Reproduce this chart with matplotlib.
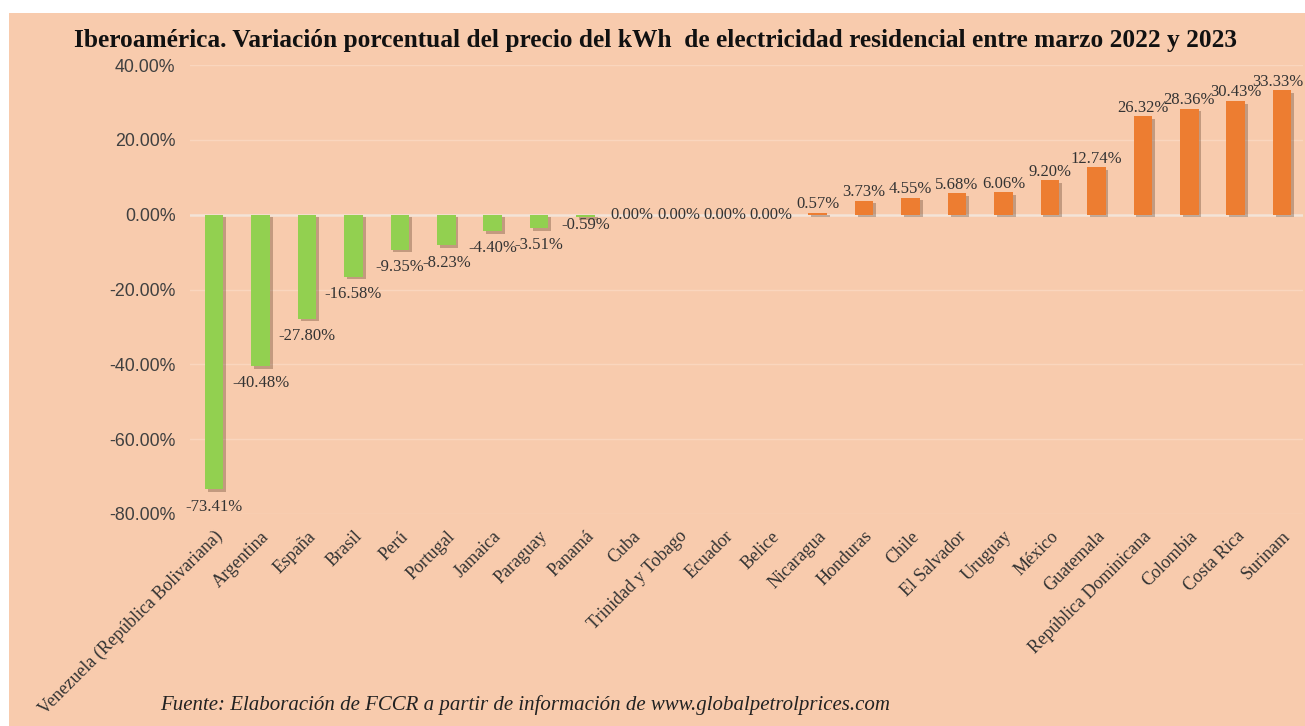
import matplotlib.pyplot as plt
import matplotlib.patheffects as pe
from matplotlib.patches import Rectangle
from matplotlib.ticker import FuncFormatter

paises = ["Venezuela (República Bolivariana)", "Argentina", "España", "Brasil", "Perú",
          "Portugal", "Jamaica", "Paraguay", "Panamá", "Cuba", "Trinidad y Tobago",
          "Ecuador", "Belice", "Nicaragua", "Honduras", "Chile", "El Salvador", "Uruguay",
          "México", "Guatemala", "República Dominicana", "Colombia", "Costa Rica", "Surinam"]
variacion = [-73.41, -40.48, -27.80, -16.58, -9.35, -8.23, -4.40, -3.51, -0.59,
             0.00, 0.00, 0.00, 0.00, 0.57, 3.73, 4.55, 5.68, 6.06, 9.20, 12.74,
             26.32, 28.36, 30.43, 33.33]
y_ticks = [40, 20, 0, -20, -40, -60, -80]

fondo = '#F8CBAD'
verde = '#92D050'
naranja = '#ED7D31'

fig = plt.figure(figsize=(13.05, 7.26), dpi=100)
fig.patch.set_facecolor('white')
fig.patches.append(Rectangle((9 / 1305, 0), 1, 1 - 13 / 726, transform=fig.transFigure,
                             facecolor=fondo, edgecolor='none', zorder=-5))

ax = fig.add_axes([190 / 1305, 212 / 726, 1113 / 1305, 449 / 726])
ax.set_facecolor('none')

x = list(range(len(paises)))
colores = [verde if v < 0 else naranja for v in variacion]
bars = ax.bar(x, variacion, width=0.4, color=colores, zorder=3)
for b in bars:
    b.set_path_effects([pe.withSimplePatchShadow(offset=(2, -2), shadow_rgbFace='#4a2a15', alpha=0.3),
                        pe.Normal()])

for xi, v in zip(x, variacion):
    etiqueta = f"{v:.2f}%"
    if v < 0:
        dy = -12.5 if v < -1 else -6
    elif v > 0:
        dy = 6
    else:
        dy = 0
    # la última etiqueta queda pegada al borde derecho
    dx = -3 if xi == len(paises) - 1 else 0
    ax.annotate(etiqueta, (xi, v), xytext=(dx, dy), textcoords='offset points',
                ha='center', va='center', fontsize=12, family='Liberation Serif', color='#333333')

ax.set_ylim(-80, 40)
ax.set_xlim(-0.52, len(paises) - 0.55)
ax.set_yticks(y_ticks)
ax.yaxis.set_major_formatter(FuncFormatter(lambda v, p: f"{v:.2f}%"))
for t in y_ticks:
    if t != 0:
        ax.axhline(t, color='#FAD6BE', lw=1, zorder=1)
ax.axhline(0, color='#F3E4D8', lw=1.8, zorder=2)

ax.set_xticks(x)
ax.set_xticklabels(paises, rotation=45, ha='right', rotation_mode='anchor',
                   fontsize=13, family='Liberation Serif', color='#333333')
ax.tick_params(axis='x', length=0, pad=10)
ax.tick_params(axis='y', length=0, pad=10.5, labelsize=12.8, labelcolor='#404040')
for lab in ax.get_yticklabels():
    lab.set_family('Liberation Sans')
for s in ax.spines.values():
    s.set_visible(False)

fig.text(656 / 1305, 1 - 40 / 726,
         "Iberoamérica. Variación porcentual del precio del kWh  de electricidad residencial entre marzo 2022 y 2023",
         ha='center', va='center', fontsize=18.3, fontweight='bold', family='Liberation Serif', color='#111111')
fig.text(160 / 1305, 1 - 705 / 726,
         "Fuente: Elaboración de FCCR a partir de información de www.globalpetrolprices.com",
         ha='left', va='center', fontsize=15, style='italic', family='Liberation Serif', color='#222222')

fig.savefig('out.png', dpi=100, facecolor=fig.get_facecolor())
